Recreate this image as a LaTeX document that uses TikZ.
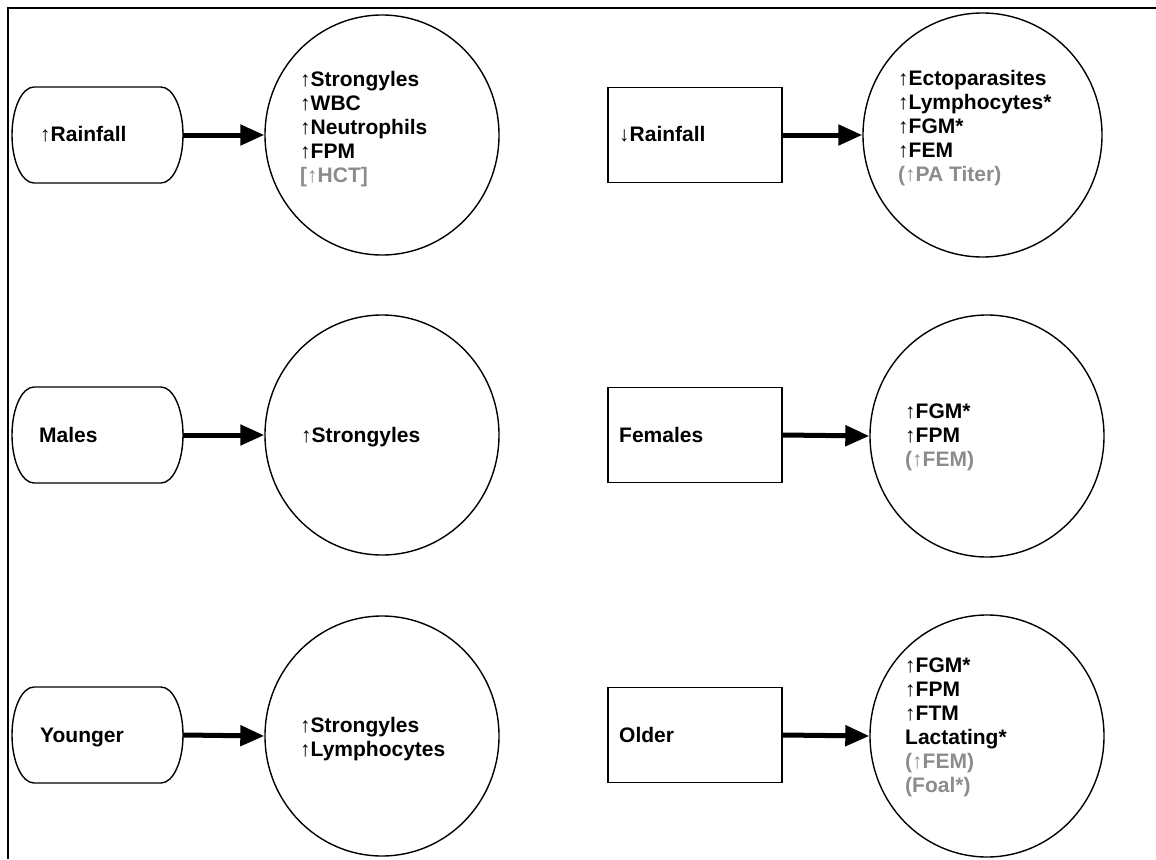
\documentclass[tikz,border=0pt]{standalone}
\usepackage{fontspec}
\setmainfont{Liberation Sans}
\usetikzlibrary{shapes.geometric,arrows.meta}
\definecolor{faded}{RGB}{140,140,140}
\newcommand{\stadpath}[1]{\draw[shapeline] (34,#1-48) -- (161,#1-48) .. controls (173.15,#1-48) and (183,#1-26.5) .. (183,#1) .. controls (183,#1+26.5) and (173.15,#1+48) .. (161,#1+48) -- (34,#1+48) .. controls (21.85,#1+48) and (12,#1+26.5) .. (12,#1) .. controls (12,#1-26.5) and (21.85,#1-48) .. cycle;}
\begin{document}
\begin{tikzpicture}[x=1pt,y=-1pt,
  shapeline/.style={draw=black,line width=1.4pt,line join=round},
  srcbox/.style={rectangle,minimum width=171pt,minimum height=96pt,inner sep=0pt},
  rectbox/.style={rectangle,draw,line width=1.4pt,minimum width=174pt,minimum height=95pt,inner sep=0pt},
  oval/.style={ellipse,draw,line width=1.4pt,inner sep=0pt},
  lbl/.style={anchor=base west,inner sep=0pt,font=\fontsize{21}{24}\selectfont\bfseries},
  dim/.style={lbl,text=faded},
  conn/.style={line width=5pt,-{Triangle[length=24pt,width=20pt]}}]
\useasboundingbox (0,0) rectangle (1156,859);
\draw[line width=1.5pt] (8,859) -- (8,8) -- (1156,8);

% Row 1
\node[srcbox] (rainup) at (97.5,135) {};
\stadpath{135}
\node[oval,minimum width=234pt,minimum height=240pt] (c1) at (382,135) {};
\draw[conn] (rainup.east) -- (c1.west);
\node[rectbox] (raindown) at (695,135) {};
\node[oval,minimum width=239pt,minimum height=244pt] (c2) at (982.5,135) {};
\draw[conn] (raindown.east) -- (c2.west);

\node[lbl] (trainup) at (40,141) {↑Rainfall};
\node[lbl] (a1) at (300,86) {↑Strongyles};
\node[lbl] (a2) at (300,110) {↑WBC};
\node[lbl] (a3) at (300,134) {↑Neutrophils};
\node[lbl] (a4) at (300,158) {↑FPM};
\node[dim] (a5) at (300,182) {[↑HCT]};

\node[lbl] (traindown) at (619,141) {↓Rainfall};
\node[lbl] (b1) at (898,85.5) {↑Ectoparasites};
\node[lbl] (b2) at (898,109.5) {↑Lymphocytes*};
\node[lbl] (b3) at (898,133.5) {↑FGM*};
\node[lbl] (b4) at (898,157.5) {↑FEM};
\node[dim] (b5) at (898,181.5) {(↑PA Titer)};

% Row 2
\node[srcbox] (males) at (97.5,435) {};
\stadpath{435}
\node[oval,minimum width=234pt,minimum height=240pt] (c3) at (382,435) {};
\draw[conn] (males.east) -- (c3.west);
\node[rectbox] (females) at (695,435) {};
\node[oval,minimum width=234pt,minimum height=242pt] (c4) at (987,436) {};
\draw[conn] (females.east) -- (c4.west);

\node[lbl] (tmales) at (39,442) {Males};
\node[lbl] (d1) at (301,442) {↑Strongyles};
\node[lbl] (tfemales) at (619,442) {Females};
\node[lbl] (e1) at (905,418) {↑FGM*};
\node[lbl] (e2) at (905,442) {↑FPM};
\node[dim] (e3) at (905,466) {(↑FEM)};

% Row 3
\node[srcbox] (younger) at (97.5,735) {};
\stadpath{735}
\node[oval,minimum width=234pt,minimum height=240pt] (c5) at (382,736) {};
\draw[conn] (younger.east) -- (c5.west);
\node[rectbox] (older) at (695,735) {};
\node[oval,minimum width=234pt,minimum height=242pt] (c6) at (987,736) {};
\draw[conn] (older.east) -- (c6.west);

\node[lbl] (tyounger) at (40,742) {Younger};
\node[lbl] (f1) at (300,732) {↑Strongyles};
\node[lbl] (f2) at (300,756) {↑Lymphocytes};
\node[lbl] (tolder) at (619,742) {Older};
\node[lbl] (g1) at (905,672) {↑FGM*};
\node[lbl] (g2) at (905,696) {↑FPM};
\node[lbl] (g3) at (905,720) {↑FTM};
\node[lbl] (g4) at (905,744) {Lactating*};
\node[dim] (g5) at (905,768) {(↑FEM)};
\node[dim] (g6) at (905,792) {(Foal*)};
\end{tikzpicture}
\end{document}
